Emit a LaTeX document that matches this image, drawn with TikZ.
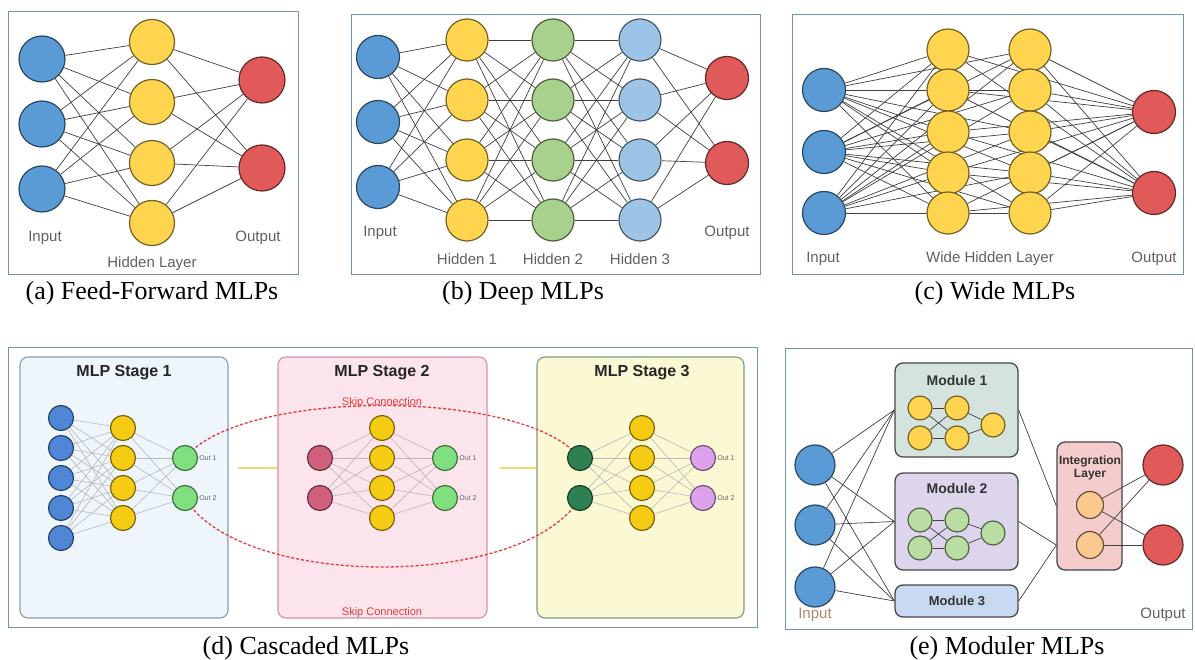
\documentclass[tikz,border=0pt]{standalone}
\usepackage{fontspec}
\setmainfont{Liberation Serif}
\setsansfont{Liberation Sans}
\pgfdeclarelayer{bg}
\pgfdeclarelayer{edges}
\pgfsetlayers{bg,edges,main}
\definecolor{inblue}{HTML}{5B9BD5}
\definecolor{hidyel}{HTML}{FFD54F}
\definecolor{outred}{HTML}{E05A5A}
\definecolor{hidgreen}{HTML}{A9D18E}
\definecolor{hidsky}{HTML}{9DC3E6}
\definecolor{panelline}{HTML}{7094B8}
\definecolor{dblue}{HTML}{4F86D6}
\definecolor{dyel}{HTML}{F5CB14}
\definecolor{dlime}{HTML}{80E080}
\definecolor{dpink}{HTML}{D0607E}
\definecolor{ddark}{HTML}{2E8052}
\definecolor{dviolet}{HTML}{DDA2EC}
\definecolor{skipred}{HTML}{E83A3A}
\definecolor{joinyel}{HTML}{E8E070}
\definecolor{stoneb}{HTML}{EEF5FB}
\definecolor{stoned}{HTML}{8A9DB0}
\definecolor{sttwob}{HTML}{FCE4EC}
\definecolor{sttwod}{HTML}{DC8FA4}
\definecolor{stthreeb}{HTML}{FBF8D4}
\definecolor{stthreed}{HTML}{7E9A82}
\definecolor{modteal}{HTML}{D5E3DE}
\definecolor{modlav}{HTML}{DCD5EC}
\definecolor{modsky}{HTML}{C8DAF2}
\definecolor{intpink}{HTML}{F4CCCC}
\definecolor{intpeach}{HTML}{F9C98F}
\definecolor{modgreen}{HTML}{B9DDA2}
\tikzset{
  neuron/.style={circle,inner sep=0pt,line width=1.2pt,minimum size=#1},
  nblue/.style={fill=inblue,draw=inblue!45!black},
  nyel/.style={fill=hidyel,draw=hidyel!45!black},
  nred/.style={fill=outred,draw=outred!45!black},
  ngreen/.style={fill=hidgreen,draw=hidgreen!45!black},
  nsky/.style={fill=hidsky,draw=hidsky!45!black},
  nmgreen/.style={fill=modgreen,draw=modgreen!45!black},
  wire/.style={draw=black!75,line width=0.7pt},
  softwire/.style={draw=black!28,line width=0.6pt},
  panelbox/.style={draw=panelline,line width=0.9pt},
  stagebox/.style={rounded corners=8pt,line width=1.1pt,inner sep=0pt},
  modbox/.style={rounded corners=8pt,draw=black!72,line width=1.3pt,inner sep=0pt},
  lbl/.style={font=\sffamily\fontsize{15}{17}\selectfont,text=black!62},
  capt/.style={font=\rmfamily\fontsize{26}{30}\selectfont},
  stitle/.style={font=\sffamily\bfseries\fontsize{16}{18}\selectfont,text=black!85},
  mtitle/.style={font=\sffamily\bfseries\fontsize{14}{16}\selectfont,text=black!80},
  olbl/.style={font=\sffamily\fontsize{7}{8}\selectfont,text=black!60,inner sep=1pt},
  skipline/.style={draw=skipred,line width=1.3pt,dash pattern=on 3pt off 2pt},
  joinline/.style={draw=joinyel,line width=1.6pt},
}

\begin{document}
\begin{tikzpicture}[x=1pt,y=-1pt]
    \useasboundingbox (0,0) rectangle (1195,660);
    \begin{pgfonlayer}{bg}
      \fill[white] (0,0) rectangle (1195,660);
    \end{pgfonlayer}

    % (a) feed-forward
    \draw[panelbox] (8,11) rectangle (298,274);
    \foreach \i/\y in {1/59,2/124,3/189} \node[neuron=46pt,nblue] (ai\i) at (42,\y) {};
    \foreach \i/\y in {1/42,2/102,3/163,4/223} \node[neuron=45pt,nyel] (ah\i) at (152,\y) {};
    \foreach \i/\y in {1/80,2/168} \node[neuron=46pt,nred] (ao\i) at (262,\y) {};
    \begin{pgfonlayer}{edges}
      \foreach \i in {1,2,3} \foreach \j in {1,...,4} \draw[wire] (ai\i) -- (ah\j);
      \foreach \i in {1,...,4} \foreach \j in {1,2} \draw[wire] (ah\i) -- (ao\j);
    \end{pgfonlayer}
    \node[lbl] (ail) at (45,238) {Input};
    \node[lbl] (aol) at (258,238) {Output};
    \node[lbl] (ahl) at (152,264) {Hidden Layer};
    \node[capt] (acap) at (152,293) {(a) Feed-Forward MLPs};

    % (b) deep
    \draw[panelbox] (351,14) rectangle (760,274);
    \foreach \i/\y in {1/57,2/122,3/187} \node[neuron=43pt,nblue] (bi\i) at (378,\y) {};
    \foreach \l/\x/\s in {1/467/nyel,2/553/ngreen,3/640/nsky}
      \foreach \i/\y in {1/40,2/100,3/160,4/220} \node[neuron=42pt,\s] (b\l h\i) at (\x,\y) {};
    \foreach \i/\y in {1/78,2/163} \node[neuron=43pt,nred] (bo\i) at (727,\y) {};
    \begin{pgfonlayer}{edges}
      \foreach \i in {1,2,3} \foreach \j in {1,...,4} \draw[wire] (bi\i) -- (b1h\j);
      \foreach \a/\b in {b1/b2,b2/b3}
        \foreach \i in {1,...,4} \foreach \j in {1,...,4} \draw[wire] (\a h\i) -- (\b h\j);
      \foreach \i in {1,...,4} \foreach \j in {1,2} \draw[wire] (b3h\i) -- (bo\j);
    \end{pgfonlayer}
    \node[lbl] (bil) at (380,233) {Input};
    \node[lbl] (bol) at (727,233) {Output};
    \foreach \l/\x in {1/467,2/553,3/640} \node[lbl] (bhl\l) at (\x,259) {Hidden \l};
    \node[capt] (bcap) at (523,293) {(b) Deep MLPs};

    % (c) wide
    \draw[panelbox] (792,14) rectangle (1183,274);
    \foreach \i/\y in {1/90,2/152,3/213} \node[neuron=43pt,nblue] (ci\i) at (824,\y) {};
    \foreach \c/\x in {1/948,2/1030}
      \foreach \i/\y in {1/50,2/90,3/132,4/173,5/213} \node[neuron=42pt,nyel] (cw\c\i) at (\x,\y) {};
    \foreach \i/\y in {1/112,2/193} \node[neuron=43pt,nred] (co\i) at (1154,\y) {};
    \begin{pgfonlayer}{edges}
      \foreach \i in {1,2,3} \foreach \c in {1,2} \foreach \j in {1,...,5} \draw[wire] (ci\i) -- (cw\c\j);
      \foreach \c in {1,2} \foreach \j in {1,...,5} \foreach \k in {1,2} \draw[wire] (cw\c\j) -- (co\k);
    \end{pgfonlayer}
    \node[lbl] (cil) at (823,259) {Input};
    \node[lbl] (cwl) at (990,259) {Wide Hidden Layer};
    \node[lbl] (col) at (1154,259) {Output};
    \node[capt] (ccap) at (995,293) {(c) Wide MLPs};

    % (d) cascaded
    \draw[panelbox] (8,347) rectangle (757,627);
    \begin{pgfonlayer}{bg}
      \node[stagebox,fill=stoneb,draw=stoned,minimum width=208pt,minimum height=261pt] (st1) at (124,487.5) {};
      \node[stagebox,fill=sttwob,draw=sttwod,minimum width=209pt,minimum height=261pt] (st2) at (382.5,487.5) {};
      \node[stagebox,fill=stthreeb,draw=stthreed,minimum width=207pt,minimum height=261pt] (st3) at (640.5,487.5) {};
    \end{pgfonlayer}
    \node[stitle] (st1t) at (124,373) {MLP Stage 1};
    \node[stitle] (st2t) at (382,373) {MLP Stage 2};
    \node[stitle] (st3t) at (642,373) {MLP Stage 3};
    \foreach \i/\y in {1/418,2/448,3/478,4/508,5/538}
      \node[neuron=25pt,fill=dblue,draw=dblue!50!black] (d1i\i) at (61,\y) {};
    \foreach \s/\x in {1/123,2/382,3/642}
      \foreach \i/\y in {1/428,2/458,3/488,4/518} \node[neuron=25pt,fill=dyel,draw=dyel!50!black] (d\s h\i) at (\x,\y) {};
    \foreach \s/\xi/\ci in {2/320/dpink,3/580/ddark}
      \foreach \i/\y in {1/458,2/498} \node[neuron=25pt,fill=\ci,draw=\ci!50!black] (d\s i\i) at (\xi,\y) {};
    \foreach \s/\x/\co in {1/185/dlime,2/445/dlime,3/703/dviolet}
      \foreach \i/\y in {1/458,2/498} {
        \node[neuron=25pt,fill=\co,draw=\co!50!black] (d\s o\i) at (\x,\y) {};
        \node[olbl,anchor=west] (d\s l\i) at (d\s o\i.east) {Out \i};
      }
    \begin{pgfonlayer}{edges}
      \foreach \i in {1,...,5} \foreach \j in {1,...,4} \draw[softwire] (d1i\i) -- (d1h\j);
      \foreach \s in {2,3} \foreach \i in {1,2} \foreach \j in {1,...,4} \draw[softwire] (d\s i\i) -- (d\s h\j);
      \foreach \s in {1,2,3} \foreach \i in {1,...,4} \foreach \j in {1,2} \draw[softwire] (d\s h\i) -- (d\s o\j);
      \draw[skipline] (d1o1.center) .. controls (240,388) and (525,388) .. (d3i1.center);
      \draw[skipline] (d1o2.center) .. controls (240,590) and (525,590) .. (d3i2.center);
      \coordinate (j1) at (238,468);
      \coordinate (j2) at (500,468);
      \draw[joinline] (j1) -- (j1 -| st2.west);
      \draw[joinline] (j2) -- (j2 -| st3.west);
    \end{pgfonlayer}
    \node[font=\sffamily\fontsize{11}{12}\selectfont,text=skipred] (sk1) at (382,403) {Skip Connection};
    \node[font=\sffamily\fontsize{11}{12}\selectfont,text=skipred] (sk2) at (382,613) {Skip Connection};
    \node[capt] (dcap) at (306,648) {(d) Cascaded MLPs};

    % (e) modular
    \draw[panelbox] (785,348) rectangle (1192,629);
    \begin{pgfonlayer}{bg}
      \node[modbox,fill=modteal,minimum width=123pt,minimum height=94pt] (mod1) at (956.5,410) {};
      \node[modbox,fill=modlav,minimum width=123pt,minimum height=97pt] (mod2) at (956.5,521.5) {};
      \node[modbox,fill=modsky,minimum width=123pt,minimum height=32pt] (mod3) at (956.5,601) {};
      \node[modbox,fill=intpink,minimum width=65pt,minimum height=128pt] (integ) at (1089.5,506) {};
    \end{pgfonlayer}
    \node[mtitle] (m1t) at (957,380) {Module 1};
    \node[mtitle] (m2t) at (957,488) {Module 2};
    \node[mtitle,font=\sffamily\bfseries\fontsize{13}{15}\selectfont] (m3t) at (957,601) {Module 3};
    \node[mtitle,align=center,font=\sffamily\bfseries\fontsize{12}{13}\selectfont] (igt) at (1090,468) {Integration\\Layer};
    \foreach \i/\y in {1/465,2/525,3/587} \node[neuron=40pt,nblue] (ei\i) at (815,\y) {};
    \foreach \i/\y in {1/465,2/545} \node[neuron=40pt,nred] (eo\i) at (1163,\y) {};
    \foreach \m/\ya/\yb/\ym/\s in {1/408/438/425/nyel,2/520/548/533/nmgreen} {
      \node[neuron=24pt,\s] (e\m a) at (920,\ya) {};
      \node[neuron=24pt,\s] (e\m b) at (920,\yb) {};
      \node[neuron=24pt,\s] (e\m c) at (957,\ya) {};
      \node[neuron=24pt,\s] (e\m d) at (957,\yb) {};
      \node[neuron=24pt,\s] (e\m e) at (993,\ym) {};
    }
    \foreach \i/\y in {1/505,2/545} \node[neuron=27pt,fill=intpeach,draw=intpeach!40!black] (eg\i) at (1090,\y) {};
    \begin{pgfonlayer}{edges}
      \foreach \i in {1,2,3} \foreach \m in {1,2,3} \draw[wire] (ei\i) -- (mod\m.west);
      \foreach \m in {1,2} {
        \draw[wire] (e\m a) -- (e\m c); \draw[wire] (e\m a) -- (e\m d);
        \draw[wire] (e\m b) -- (e\m c); \draw[wire] (e\m b) -- (e\m d);
        \draw[wire] (e\m c) -- (e\m e); \draw[wire] (e\m d) -- (e\m e);
      }
      \coordinate (ej) at (integ.west |- eg2);
      \draw[wire] (mod1.east) -- (integ.west);
      \draw[wire] (mod2.east) -- (ej);
      \draw[wire] (mod3.east) -- (ej);
      \foreach \i in {1,2} \foreach \j in {1,2} \draw[wire] (eg\i) -- (eo\j);
    \end{pgfonlayer}
    \node[lbl,text=brown!70!black!70] (eil) at (815,615) {Input};
    \node[lbl] (eol) at (1163,615) {Output};
    \node[capt] (ecap) at (1007,648) {(e) Moduler MLPs};
\end{tikzpicture}
\end{document}
